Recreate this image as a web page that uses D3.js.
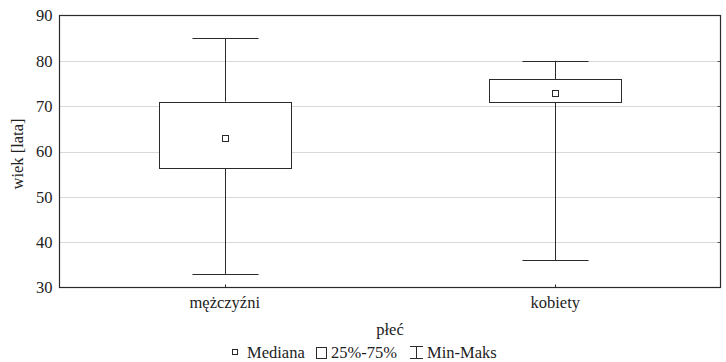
<!DOCTYPE html>
<html><head><meta charset="utf-8">
<script src="https://cdn.jsdelivr.net/npm/d3@7"></script>
<style>body{margin:0;background:#fff}svg{display:block}</style>
</head><body><svg id="c" width="726" height="362"></svg>
<script>
const categories = ["mężczyźni", "kobiety"];
const minVals = [33, 36];
const q1Vals = [56.5, 71];
const medianVals = [63, 73];
const q3Vals = [71, 76];
const maxVals = [85, 80];
const yTicks = [30, 40, 50, 60, 70, 80, 90];

const FONT = "Liberation Serif";
const FS = 16.5;
const svg = d3.select("#c");
const L = 59.5, R = 720.5, T = 15.5, B = 287.5;
const x = d3.scaleBand().domain(categories).range([L, R]);
const y = d3.scaleLinear().domain([30, 90]).range([B, T]);
const ink = "#2a2a2a";
const txt = sel => sel.attr("font-family", FONT).attr("font-size", FS).attr("fill", "#222");

// grid
svg.append("g").selectAll("line").data(yTicks.slice(1, -1)).join("line")
  .attr("x1", L).attr("x2", R).attr("y1", d => Math.round(y(d)) + 0.5).attr("y2", d => Math.round(y(d)) + 0.5)
  .attr("stroke", "#d9d9d9").attr("stroke-width", 1);

// y axis
const ya = svg.append("g").attr("transform", `translate(${L},0)`)
  .call(d3.axisLeft(y).tickValues(yTicks).tickSize(0).tickPadding(7));
ya.select(".domain").remove();
ya.selectAll("text").call(txt);

// right inner ticks
svg.append("g").selectAll("line").data(yTicks.slice(1, -1)).join("line")
  .attr("x1", R - 3).attr("x2", R).attr("y1", d => Math.round(y(d)) + 0.5).attr("y2", d => Math.round(y(d)) + 0.5)
  .attr("stroke", "#555");

// x axis
const xa = svg.append("g").attr("transform", `translate(0,${B})`)
  .call(d3.axisBottom(x).tickSize(0).tickPadding(9));
xa.select(".domain").remove();
xa.selectAll("text").call(txt);
svg.append("g").selectAll("line").data(categories).join("line")
  .attr("x1", d => Math.round(x(d) + x.bandwidth() / 2) + 0.5).attr("x2", d => Math.round(x(d) + x.bandwidth() / 2) + 0.5)
  .attr("y1", B - 3).attr("y2", B).attr("stroke", ink);

// frame
svg.append("rect").attr("x", L).attr("y", T).attr("width", R - L).attr("height", B - T)
  .attr("fill", "none").attr("stroke", ink).attr("stroke-width", 1.2);

// boxes
const boxW = x.bandwidth() * 0.4;
const capW = boxW / 2;
const g = svg.append("g").selectAll("g").data(categories).join("g");
g.each(function (c, i) {
  const s = d3.select(this);
  const cx = Math.round(x(c) + x.bandwidth() / 2) + 0.5;
  s.append("line").attr("x1", cx).attr("x2", cx).attr("y1", y(maxVals[i])).attr("y2", y(q3Vals[i])).attr("stroke", ink);
  s.append("line").attr("x1", cx).attr("x2", cx).attr("y1", y(q1Vals[i])).attr("y2", y(minVals[i])).attr("stroke", ink);
  s.append("line").attr("x1", cx - capW / 2).attr("x2", cx + capW / 2).attr("y1", Math.round(y(maxVals[i])) + 0.5).attr("y2", Math.round(y(maxVals[i])) + 0.5).attr("stroke", ink);
  s.append("line").attr("x1", cx - capW / 2).attr("x2", cx + capW / 2).attr("y1", Math.round(y(minVals[i])) + 0.5).attr("y2", Math.round(y(minVals[i])) + 0.5).attr("stroke", ink);
  s.append("rect").attr("x", Math.round(cx - boxW / 2) + 0.5).attr("width", Math.round(boxW))
    .attr("y", Math.round(y(q3Vals[i])) + 0.5).attr("height", Math.round(y(q1Vals[i]) - y(q3Vals[i])))
    .attr("fill", "#fff").attr("stroke", ink);
  s.append("rect").attr("x", cx - 3).attr("y", Math.round(y(medianVals[i])) - 2.5).attr("width", 6).attr("height", 6)
    .attr("fill", "#fff").attr("stroke", ink);
});

// axis titles
svg.append("text").attr("transform", `translate(23,154) rotate(-90)`).attr("text-anchor", "middle")
  .call(txt).text("wiek [lata]");
svg.append("text").attr("x", (L + R) / 2).attr("y", 335).attr("text-anchor", "middle").call(txt).text("płeć");

// legend
const base = 358;
const lg = svg.append("g");
lg.append("rect").attr("x", 232.5).attr("y", 349.5).attr("width", 5).attr("height", 5).attr("fill", "#fff").attr("stroke", ink);
lg.append("text").attr("x", 247).attr("y", base).call(txt).text("Mediana");
lg.append("rect").attr("x", 316.5).attr("y", 347.5).attr("width", 10).attr("height", 11).attr("fill", "#fff").attr("stroke", ink);
lg.append("text").attr("x", 331).attr("y", base).call(txt).text("25%-75%");
lg.append("line").attr("x1", 410).attr("x2", 423).attr("y1", 346.5).attr("y2", 346.5).attr("stroke", ink);
lg.append("line").attr("x1", 410).attr("x2", 423).attr("y1", 358.5).attr("y2", 358.5).attr("stroke", ink);
lg.append("line").attr("x1", 416.5).attr("x2", 416.5).attr("y1", 346.5).attr("y2", 358.5).attr("stroke", ink);
lg.append("text").attr("x", 427).attr("y", base).call(txt).text("Min-Maks");
</script></body></html>
